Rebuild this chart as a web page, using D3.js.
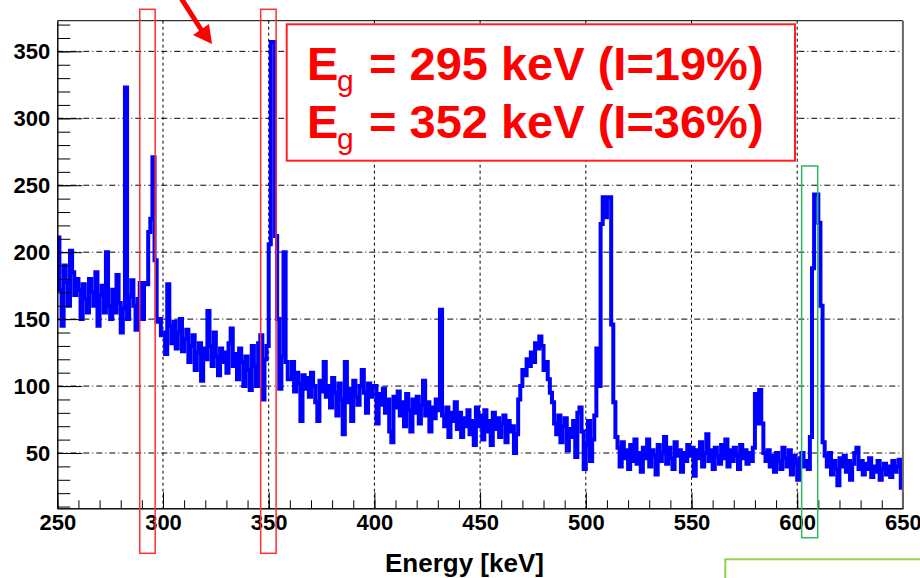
<!DOCTYPE html>
<html>
<head>
<meta charset="utf-8">
<script src="https://cdn.jsdelivr.net/npm/d3@7"></script>
<style>
body { margin: 0; background: #fff; }
text { font-family: "Liberation Sans", Arial, sans-serif; }
</style>
</head>
<body>
<script>
// spectrum, 1 keV bins starting at 250 keV
var binStart = 250, binWidth = 1;
var counts250 = [
 211,172,145,190,178,160,201,185,168,180,
 172,150,176,165,155,180,170,160,185,145,
 168,175,155,200,160,150,172,155,183,162,
 140,158,323,150,167,179,160,142,165,177,
 150,177,176,215,225,271,194,148,150,138,
 140,124,176,145,132,148,128,140,150,126,
 135,142,118,130,138,112,125,132,104,128,
 120,156,130,115,140,122,108,128,118,125,
 110,132,143,115,124,105,128,118,100,122,
 112,97,130,115,100,132,138,90,120,130];
var counts350 = [
 206,357,357,212,150,98,122,200,118,105,
 105,118,96,110,102,74,108,98,106,92,
 110,100,88,74,104,96,118,92,100,84,
 106,95,78,102,90,64,118,88,98,74,
 104,92,86,100,112,95,80,102,92,100,
 100,72,94,86,98,80,90,66,58,92,
 84,96,78,88,70,94,82,66,90,80,
 92,72,86,104,78,88,66,84,76,90,
 82,157,78,70,84,62,80,74,88,68,
 80,62,76,70,82,64,74,56,84,70];
var counts450 = [
 78,60,82,66,74,56,80,68,76,62,
 72,78,58,74,66,70,50,64,90,100,
 112,108,120,115,125,118,132,128,137,130,
 112,118,105,95,88,72,64,78,58,70,
 76,52,68,62,74,47,80,84,66,38,
 56,74,44,60,78,128,100,221,241,226,
 241,241,146,88,62,54,40,58,46,52,
 38,56,44,60,42,50,36,54,46,60,
 40,52,48,34,56,44,50,62,42,54,
 46,38,58,48,52,36,50,44,56,48];
var counts550 = [
 54,33,52,46,58,40,50,64,44,52,
 38,54,48,42,56,46,60,40,52,44,
 54,48,38,56,46,52,42,50,44,54,
 94,72,97,72,50,44,52,40,48,36,
 50,44,38,54,46,40,52,34,48,42,
 30,46,50,40,44,38,62,188,243,243,
 222,160,58,48,40,50,34,44,38,26,
 46,40,48,36,44,30,42,50,54,38,
 44,34,42,38,46,32,40,36,44,30,
 38,42,34,40,32,44,36,40,45,24];

var xTicks = [250,300,350,400,450,500,550,600,650];
var yTicks = [50,100,150,200,250,300,350];
var xTitle = "Energy [keV]";
var lineEnergies = ["295 keV (I=19%)", "352 keV (I=36%)"];
var redWindows = [[289,296.3],[346.2,353.5]];   // keV
var greenWindow = [602.1,609.7];                 // keV

var counts = counts250.concat(counts350, counts450, counts550);

var width = 920, height = 578;
var svg = d3.select("body").append("svg")
            .attr("width", width)
            .attr("height", height);

var pLeft = 57.3, pRight = 902.9, pTop = 20.7, pBottom = 508.3;

var x = d3.scaleLinear().domain([250,650]).range([pLeft,pRight]);
var y = d3.scaleLinear().domain([8.7,372.9]).range([pBottom,pTop]);

// grid
svg.append("g").selectAll("line")
   .data(xTicks.slice(1,-1))
   .enter().append("line")
   .attr("x1", function(d){ return x(d); })
   .attr("x2", function(d){ return x(d); })
   .attr("y1", pTop).attr("y2", pBottom)
   .attr("stroke", "#000").attr("stroke-width", 1)
   .attr("stroke-dasharray", "3,3");
svg.append("g").selectAll("line")
   .data(yTicks)
   .enter().append("line")
   .attr("x1", pLeft).attr("x2", pRight)
   .attr("y1", function(d){ return y(d); })
   .attr("y2", function(d){ return y(d); })
   .attr("stroke", "#000").attr("stroke-width", 1)
   .attr("stroke-dasharray", "6,3,1,3");

// histogram outline
var pts = counts.map(function(c,i){ return [binStart + i*binWidth, c]; });
pts.push([binStart + counts.length*binWidth, counts[counts.length-1]]);
var line = d3.line()
             .x(function(d){ return x(d[0]); })
             .y(function(d){ return y(d[1]); })
             .curve(d3.curveStepAfter);
svg.append("path")
   .datum(pts)
   .attr("d", line)
   .attr("fill", "none")
   .attr("stroke", "#0000ff")
   .attr("stroke-width", 4);

// axes (ticks pointing inside, ROOT style)
function styleAxis(g){
  g.selectAll("line").attr("stroke", "#000");
  g.selectAll("path").attr("stroke", "#000");
  g.selectAll("text")
   .attr("fill", "#000")
   .attr("font-family", "'Liberation Sans', Arial, sans-serif")
   .attr("font-size", 22)
   .attr("font-weight", "bold");
}
svg.append("g")
   .attr("transform", "translate(0," + pBottom + ")")
   .call(d3.axisBottom(x).tickValues(d3.range(250,651,10)).tickSize(-8).tickSizeOuter(0).tickFormat(""))
   .call(styleAxis);
svg.append("g")
   .attr("transform", "translate(0," + pBottom + ")")
   .call(d3.axisBottom(x).tickValues(xTicks).tickSize(-16).tickSizeOuter(0).tickPadding(6))
   .call(styleAxis);
svg.append("g")
   .attr("transform", "translate(" + pLeft + ",0)")
   .call(d3.axisLeft(y).tickValues(d3.range(10,371,10)).tickSize(-13).tickSizeOuter(0).tickFormat(""))
   .call(styleAxis);
svg.append("g")
   .attr("transform", "translate(" + pLeft + ",0)")
   .call(d3.axisLeft(y).tickValues(yTicks).tickSize(-25).tickSizeOuter(0).tickPadding(7))
   .call(styleAxis);

// frame top / right
svg.append("line").attr("x1", pLeft).attr("x2", pRight).attr("y1", pTop).attr("y2", pTop)
   .attr("stroke", "#000").attr("stroke-width", 1);
svg.append("line").attr("x1", pRight).attr("x2", pRight).attr("y1", pTop).attr("y2", pBottom)
   .attr("stroke", "#666").attr("stroke-width", 2);

svg.append("text")
   .attr("x", 385).attr("y", 572)
   .attr("font-size", 26).attr("font-weight", "bold")
   .attr("fill", "#000")
   .text(xTitle);

// annotation box
svg.append("rect")
   .attr("x", 286.7).attr("y", 24.3)
   .attr("width", 508.3).attr("height", 136.4)
   .attr("fill", "#fff").attr("stroke", "#ff2020").attr("stroke-width", 2);

var lab = svg.append("g").attr("fill", "#ff0000");
lineEnergies.forEach(function(s, i){
  var base = 80 + i*58.3;
  lab.append("text").attr("x", 307).attr("y", base)
     .attr("font-size", 47).attr("font-weight", "bold").text("E");
  lab.append("text").attr("x", 337).attr("y", base + 11)
     .attr("font-size", 30).text("g");
  lab.append("text").attr("x", 369).attr("y", base)
     .attr("font-size", 47).attr("font-weight", "bold").text("= " + s);
});

// energy windows
svg.append("g").selectAll("rect")
   .data(redWindows)
   .enter().append("rect")
   .attr("x", function(d){ return x(d[0]); })
   .attr("width", function(d){ return x(d[1]) - x(d[0]); })
   .attr("y", 9.3).attr("height", 544)
   .attr("fill", "none").attr("stroke", "#ff3030").attr("stroke-width", 1.5);
svg.append("rect")
   .attr("x", x(greenWindow[0]))
   .attr("width", x(greenWindow[1]) - x(greenWindow[0]))
   .attr("y", 166).attr("height", 371.7)
   .attr("fill", "none").attr("stroke", "#2db862").attr("stroke-width", 1.5);
svg.append("rect")
   .attr("x", 725.3).attr("y", 559.3)
   .attr("width", 220).attr("height", 40)
   .attr("fill", "none").attr("stroke", "#92d050").attr("stroke-width", 2);

// arrow
svg.append("line")
   .attr("x1", 181).attr("y1", -2).attr("x2", 202).attr("y2", 31)
   .attr("stroke", "#ff0000").attr("stroke-width", 5);
svg.append("path")
   .attr("d", "M212,44 L193,35 L209,24 Z")
   .attr("fill", "#ff0000");
</script>
</body>
</html>
